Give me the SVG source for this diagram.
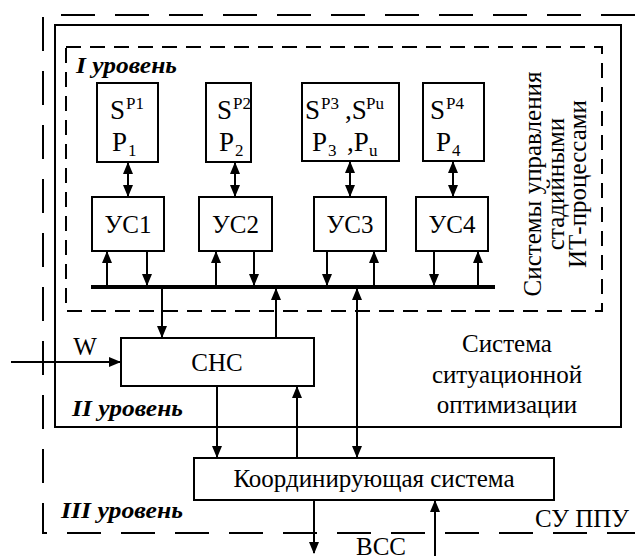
<svg xmlns="http://www.w3.org/2000/svg" width="635" height="556" viewBox="0 0 635 556">
<style>
.t{font-size:25px}
.b{font-size:27px}
.sm{font-size:17px}
.lvl{font-size:23px;font-weight:bold;font-style:italic}
.box{fill:#fff;stroke:#000;stroke-width:2}
.ln{stroke:#000;stroke-width:2;fill:none}
.a{marker-end:url(#ah)}
.aa{marker-end:url(#ah);marker-start:url(#ahs)}
</style>
<defs>
<marker id="ah" markerUnits="userSpaceOnUse" markerWidth="12" markerHeight="10" refX="11" refY="5" orient="auto"><path d="M0,0 L12,5 L0,10 z" fill="#000"/></marker>
<marker id="ahs" markerUnits="userSpaceOnUse" markerWidth="12" markerHeight="10" refX="11" refY="5" orient="auto-start-reverse"><path d="M0,0 L12,5 L0,10 z" fill="#000"/></marker>
</defs>
<g id="frames">
<path d="M635,15 H43 V533 H635" fill="none" stroke="#000" stroke-width="2" stroke-dasharray="34,20"/>
<rect x="55" y="25" width="566" height="402" fill="none" stroke="#000" stroke-width="2"/>
<rect x="66" y="47" width="536" height="264" fill="none" stroke="#000" stroke-width="2" stroke-dasharray="15,9"/>
</g>
<g font-family="Liberation Serif, Times New Roman, DejaVu Serif, serif" fill="#000">
<g id="labels">
<text class="lvl" x="76" y="73" textLength="101" lengthAdjust="spacingAndGlyphs">I уровень</text>
<text class="lvl" x="72" y="416" textLength="111" lengthAdjust="spacingAndGlyphs">II уровень</text>
<text class="lvl" x="61" y="518" textLength="122" lengthAdjust="spacingAndGlyphs">III уровень</text>
<g transform="translate(541,184) rotate(-90)"><text class="t" x="0" y="0" text-anchor="middle">Системы  управления</text></g>
<g transform="translate(564,184) rotate(-90)"><text class="t" x="0" y="0" text-anchor="middle">стадийными</text></g>
<g transform="translate(586,184) rotate(-90)"><text class="t" x="0" y="0" text-anchor="middle">ИТ-процессами</text></g>
<text class="t" x="507" y="352" text-anchor="middle">Система</text>
<text class="t" x="507" y="383" text-anchor="middle">ситуационной</text>
<text class="t" x="507" y="413" text-anchor="middle">оптимизации</text>
<text class="t" x="582" y="527" text-anchor="middle">СУ ППУ</text>
<text class="t" x="381" y="555" text-anchor="middle">ВСС</text>
<text class="t" x="85" y="355" text-anchor="middle">W</text>
</g>
<g id="P1">
<rect class="box" x="97" y="83" width="61" height="79"/>
<text class="b" x="110" y="119">S</text><text class="sm" x="126" y="109">P1</text>
<text class="b" x="112" y="151">P</text><text class="sm" x="128" y="156">1</text>
</g>
<g id="P2">
<rect class="box" x="206" y="83" width="45" height="79"/>
<text class="b" x="217" y="119">S</text><text class="sm" x="233" y="109">P2</text>
<text class="b" x="219" y="151">P</text><text class="sm" x="235" y="156">2</text>
</g>
<g id="P3">
<rect class="box" x="302" y="83" width="97" height="78"/>
<text class="b" x="305" y="119">S</text><text class="sm" x="321" y="109">P3</text>
<text class="b" x="345" y="119">,S</text><text class="sm" x="366" y="109">Pu</text>
<text class="b" x="312" y="151">P</text><text class="sm" x="328" y="156">3</text>
<text class="b" x="347" y="151">,P</text><text class="sm" x="369" y="156">u</text>
</g>
<g id="P4">
<rect class="box" x="423" y="83" width="61" height="78"/>
<text class="b" x="430" y="119">S</text><text class="sm" x="446" y="109">P4</text>
<text class="b" x="436" y="151">P</text><text class="sm" x="452" y="156">4</text>
</g>
<g id="US1"><rect class="box" x="92" y="197" width="72" height="54"/><text class="t" x="128" y="233" text-anchor="middle">УС1</text></g>
<g id="US2"><rect class="box" x="199" y="197" width="73" height="54"/><text class="t" x="235.5" y="233" text-anchor="middle">УС2</text></g>
<g id="US3"><rect class="box" x="314" y="197" width="72" height="54"/><text class="t" x="350" y="233" text-anchor="middle">УС3</text></g>
<g id="US4"><rect class="box" x="416" y="197" width="72" height="54"/><text class="t" x="452" y="233" text-anchor="middle">УС4</text></g>
<g id="CHC"><rect class="box" x="121" y="338" width="193" height="48"/><text class="t" x="217" y="371" text-anchor="middle">СНС</text></g>
<g id="KS"><rect class="box" x="194" y="458" width="360" height="42"/><text class="t" x="374" y="487" text-anchor="middle">Координирующая система</text></g>
</g>
<g id="connectors">
<line x1="91" y1="287" x2="495" y2="287" stroke="#000" stroke-width="4"/>
<line class="ln aa" x1="128" y1="163" x2="128" y2="196"/>
<line class="ln aa" x1="235" y1="163" x2="235" y2="196"/>
<line class="ln aa" x1="350" y1="162" x2="350" y2="196"/>
<line class="ln aa" x1="453" y1="162" x2="453" y2="196"/>
<line class="ln a" x1="107" y1="286" x2="107" y2="252"/>
<line class="ln a" x1="147" y1="252" x2="147" y2="285"/>
<line class="ln a" x1="216" y1="286" x2="216" y2="252"/>
<line class="ln a" x1="254" y1="252" x2="254" y2="285"/>
<line class="ln a" x1="327" y1="252" x2="327" y2="285"/>
<line class="ln a" x1="374" y1="286" x2="374" y2="252"/>
<line class="ln a" x1="434" y1="252" x2="434" y2="285"/>
<line class="ln a" x1="478" y1="286" x2="478" y2="252"/>
<line class="ln a" x1="162" y1="288" x2="162" y2="337"/>
<line class="ln a" x1="276" y1="337" x2="276" y2="289"/>
<line class="ln aa" x1="357" y1="289" x2="357" y2="457"/>
<line class="ln a" x1="217" y1="387" x2="217" y2="457"/>
<line class="ln a" x1="297" y1="457" x2="297" y2="387"/>
<line class="ln a" x1="314" y1="501" x2="314" y2="553"/>
<line class="ln a" x1="435" y1="556" x2="435" y2="501"/>
<line class="ln a" x1="11" y1="362" x2="120" y2="362"/>
</g>
</svg>
